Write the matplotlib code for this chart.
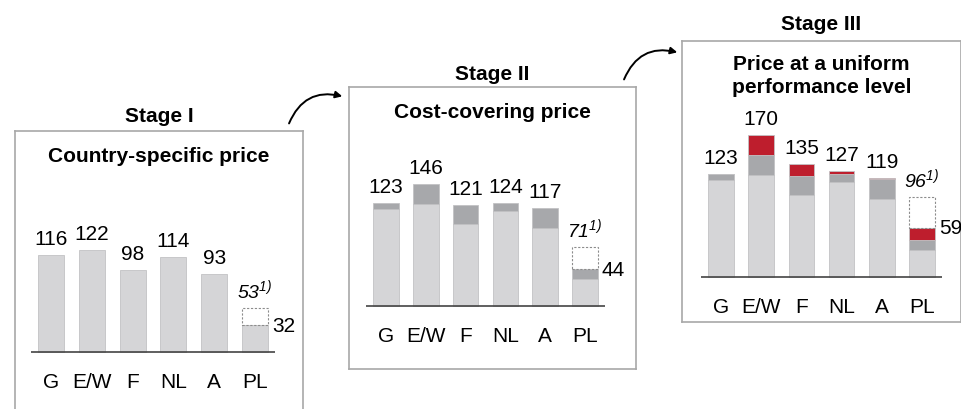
import numpy as np
import matplotlib
matplotlib.use('Agg')
import matplotlib.pyplot as plt
from matplotlib.patches import FancyArrowPatch

plt.rcParams['font.family'] = ['Liberation Sans', 'DejaVu Sans']
# mathtext is only used for the italic footnoted values
plt.rcParams['mathtext.fontset'] = 'custom'
plt.rcParams['mathtext.rm'] = 'Liberation Sans:italic'
plt.rcParams['mathtext.it'] = 'Liberation Sans:italic'

# price index per country, built up stage by stage
countries = ['G', 'E/W', 'F', 'NL', 'A', 'PL']
base_price = [116, 122, 98, 114, 93, 32]
cost_add = [7, 24, 23, 10, 24, 12]
perf_add = [0, 24, 14, 3, 2, 15]
pl_reference = [53, 71, 96]   # footnoted PL value, one per stage

stage_names = ['Stage I', 'Stage II', 'Stage III']
panel_titles = ['Country-specific price', 'Cost-covering price',
                'Price at a uniform\nperformance level']

LIGHT = '#d5d5d7'
DARK = '#a7a8ab'
RED = '#be1e2d'
EDGE = '#c2c2c4'
BOX = '#a8a8a8'

W, H = 962, 410
PX_PER_UNIT = 0.834

# panel geometry in pixels: box (left, top, right, bottom), baseline y,
# first bar centre, bar spacing, title y, stage label y
panels = [
    dict(box=(15, 132, 303, 412), base=353, c0=51, step=40.8, title_y=157, stage_y=117),
    dict(box=(349, 88, 636, 370), base=307, c0=386, step=39.8, title_y=112, stage_y=75),
    dict(box=(682, 42, 961, 323), base=278, c0=721, step=40.2, title_y=76, stage_y=25),
]

fig = plt.figure(figsize=(W / 100, H / 100), dpi=100)


def fx(x):
    return x / W


def fy(y):
    return 1 - y / H


x = np.arange(len(countries))
layers = [
    (np.array(base_price), LIGHT),
    (np.array(cost_add), DARK),
    (np.array(perf_add), RED),
]

for k, p in enumerate(panels):
    x0, y0, x1, y1 = p['box']
    ax = fig.add_axes([fx(x0), fy(y1), (x1 - x0) / W, (y1 - y0) / H])
    ax.set_xlim((x0 - p['c0']) / p['step'], (x1 - p['c0']) / p['step'])
    ax.set_ylim(-(y1 - p['base']) / PX_PER_UNIT, (p['base'] - y0) / PX_PER_UNIT)
    ax.set_xticks([])
    ax.set_yticks([])
    for side, sp in ax.spines.items():
        sp.set_color(BOX)
        sp.set_linewidth(1.2)
    if k == 0:
        ax.spines['bottom'].set_visible(False)

    width = 0.64
    bottom = np.zeros(len(countries))
    for vals, col in layers[:k + 1]:
        ax.bar(x, vals, width, bottom=bottom, color=col, edgecolor=EDGE,
               linewidth=0.6, zorder=2)
        bottom = bottom + vals
    totals = bottom

    # dashed outline up to the footnoted PL value
    ax.bar(x[-1], pl_reference[k] - totals[-1], width, bottom=totals[-1],
           fill=False, edgecolor='#8c8c8c', linestyle=(0, (2, 1.5)),
           linewidth=0.8, zorder=3)

    ax.hlines(0, -0.5, len(countries) - 0.5, color='#444444', linewidth=1.2, zorder=4)

    for i in range(len(countries) - 1):
        ax.annotate(f'{totals[i]:.0f}', (x[i], totals[i]), xytext=(0, 5),
                    textcoords='offset points', ha='center', va='bottom',
                    fontsize=15)
    ax.annotate(f'{totals[-1]:.0f}', (x[-1] + width / 2, totals[-1]),
                xytext=(3, 0), textcoords='offset points', ha='left',
                va='center', fontsize=15)
    ax.annotate(r'$' + str(pl_reference[k]) + r'^{1)}$',
                (x[-1], pl_reference[k]), xytext=(0, 5),
                textcoords='offset points', ha='center', va='bottom',
                fontsize=14)

    for i, c in enumerate(countries):
        ax.annotate(c, (x[i], 0), xytext=(0, -21), textcoords='offset points',
                    ha='center', va='center', fontsize=15)

    cx = (x0 + x1) / 2
    fig.text(fx(cx), fy(p['title_y']), panel_titles[k], ha='center',
             va='center', fontsize=15, fontweight='bold', linespacing=1.3)
    fig.text(fx(cx), fy(p['stage_y']), stage_names[k], ha='center',
             va='center', fontsize=15, fontweight='bold')

# curved arrows leading from one stage to the next
for (sx, sy), (ex, ey) in [((288, 127), (345, 98)), ((623, 83), (680, 54))]:
    arr = FancyArrowPatch((fx(sx), fy(sy)), (fx(ex), fy(ey)),
                          transform=fig.transFigure,
                          connectionstyle='arc3,rad=-0.45',
                          arrowstyle='-|>', mutation_scale=10,
                          color='black', linewidth=1.4)
    fig.patches.append(arr)

fig.savefig('out.png', dpi=100, facecolor='white')
